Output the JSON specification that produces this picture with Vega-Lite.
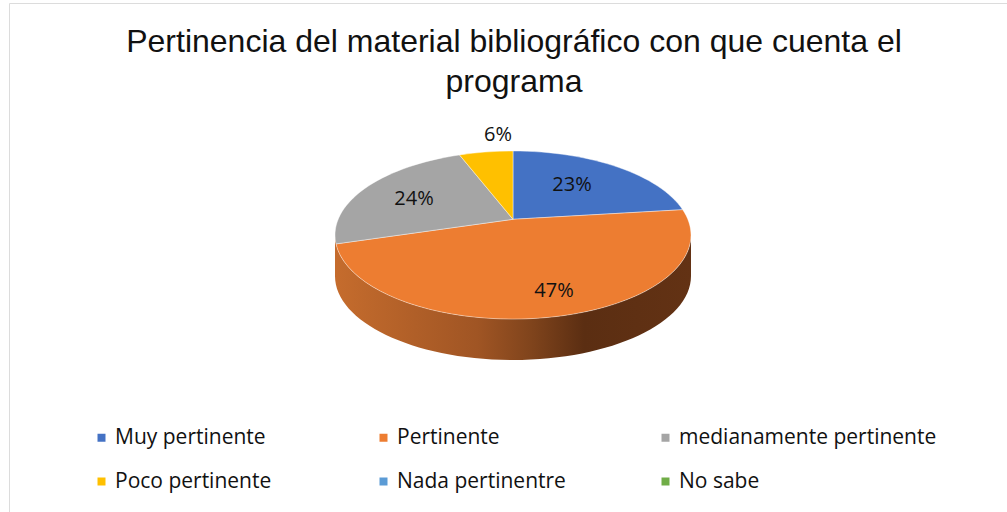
{
"$schema":"https://vega.github.io/schema/vega-lite/v6.json",
"autosize":{"type":"none"},
"padding":{"left":9,"top":3,"right":0,"bottom":0},
"width":998,"height":509,
"background":"white",
"view":{"stroke":"#dcdcdc","strokeWidth":1},
"title":{"text":["Pertinencia del material bibliográfico con que cuenta el","programa"],"font":"Liberation Sans","fontSize":32,"fontWeight":"normal","color":"#111111","anchor":"middle","frame":"group","orient":"top","offset":0,"dy":96,"dx":6,"lineHeight":40},
"data":{"values":[
{"categoria":"Muy pertinente","porcentaje":0.23},
{"categoria":"Pertinente","porcentaje":0.47},
{"categoria":"medianamente pertinente","porcentaje":0.24},
{"categoria":"Poco pertinente","porcentaje":0.06},
{"categoria":"Nada pertinentre","porcentaje":0},
{"categoria":"No sabe","porcentaje":0}
]},
"layer":[
{"transform":[{"filter":"datum.categoria === 'Pertinente'"}],
 "mark":{"type":"point","filled":true,"opacity":1,"size":4,
  "shape":"M183,-22.5 A178,84 0 0 1 -173,-22.5 L-173,18.5 A178,84 0 0 0 183,18.5 Z",
  "fill":{"gradient":"linear","x1":0,"y1":0,"x2":1,"y2":0,"stops":[{"offset":0,"color":"#c56c2d"},{"offset":0.4,"color":"#a05524"},{"offset":0.55,"color":"#80441c"},{"offset":0.7,"color":"#5b2e12"},{"offset":1,"color":"#633214"}]}},
 "encoding":{}},
{"mark":{"type":"point","filled":true,"opacity":1,"size":4,"stroke":"#ffffff","strokeWidth":0.6,"strokeOpacity":0.7},
 "encoding":{
  "color":{"field":"categoria","type":"nominal","scale":{"domain":["Muy pertinente","Pertinente","medianamente pertinente","Poco pertinente","Nada pertinentre","No sabe"],"range":["#4472c4","#ed7d31","#a5a5a5","#ffc000","#5b9bd5","#70ad47"]},
   "legend":{"orient":"none","legendX":82,"legendY":424,"columns":3,"direction":"horizontal","title":null,"symbolType":"square","symbolSize":64,"symbolStrokeWidth":0,"labelFont":"Open Sans","labelFontSize":21,"labelColor":"#111111","gridAlign":"all","columnPadding":0,"rowPadding":22,"labelOffset":3,"labelLimit":400}},
  "shape":{"field":"porcentaje","type":"nominal","legend":null,"scale":{"domain":[0.23,0.47,0.24,0.06,0],"range":[
   "M5,-38.2 L5,-106.5 A178,84 0 0 1 174.7,-47.8 Z",
   "M5,-38.2 L174.7,-47.8 A178,84 0 1 1 -172,-13.6 Z",
   "M5,-38.2 L-172,-13.6 A178,84 0 0 1 -48.5,-102.6 Z",
   "M5,-38.2 L-48.5,-102.6 A178,84 0 0 1 5,-106.5 Z",
   "M0,0"]}}
 }},
{"transform":[{"filter":"datum.categoria === 'Muy pertinente'"}],"mark":{"type":"text","font":"Open Sans","fontSize":20,"color":"#111111","dx":64,"dy":-72.5},"encoding":{"text":{"field":"porcentaje","type":"quantitative","format":".0%"}}},
{"transform":[{"filter":"datum.categoria === 'Pertinente'"}],"mark":{"type":"text","font":"Open Sans","fontSize":20,"color":"#111111","dx":46,"dy":33},"encoding":{"text":{"field":"porcentaje","type":"quantitative","format":".0%"}}},
{"transform":[{"filter":"datum.categoria === 'medianamente pertinente'"}],"mark":{"type":"text","font":"Open Sans","fontSize":20,"color":"#111111","dx":-94,"dy":-58.5},"encoding":{"text":{"field":"porcentaje","type":"quantitative","format":".0%"}}},
{"transform":[{"filter":"datum.categoria === 'Poco pertinente'"}],"mark":{"type":"text","font":"Open Sans","fontSize":20,"color":"#111111","dx":-10,"dy":-122.5},"encoding":{"text":{"field":"porcentaje","type":"quantitative","format":".0%"}}}
]
}
